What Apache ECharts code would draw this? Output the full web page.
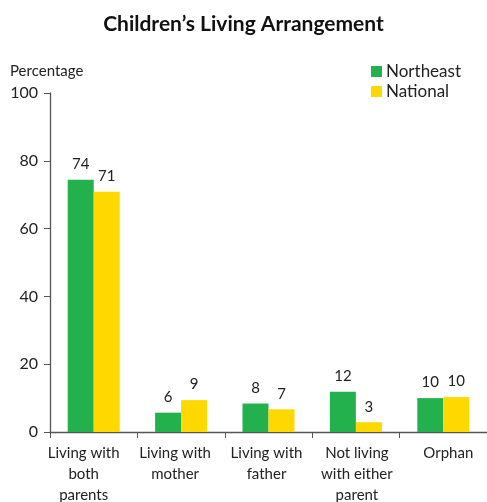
<html>
<head>
    <meta charset="utf-8">
    <title>Children's Living Arrangement</title>
    <script src="https://cdn.jsdelivr.net/npm/echarts@6/dist/echarts.min.js"></script>
    <style>
        html, body { margin: 0; padding: 0; width: 487px; height: 502px; background: #fff; }
    </style>
</head>
<body>
    <div id="main" style="width: 487px; height: 502px;"></div>
    <script type="text/javascript">
        // data
        var categories = ['Living with\nboth\nparents', 'Living with\nmother', 'Living with\nfather', 'Not living\nwith either\nparent', 'Orphan'];
        var northeast = [74.4, 5.7, 8.4, 11.9, 10.0];
        var national = [70.9, 9.4, 6.7, 2.9, 10.3];
        var yTicks = [0, 20, 40, 60, 80, 100];

        var colors = ['#22b14c', '#ffd800'];
        var font = 'Lato, "Open Sans", sans-serif';
        // the original's category labels sit a little off their tick centres
        var labelShift = [-10, -6, -2, 1, 5];
        var myChart = echarts.init(document.getElementById('main'));

        var catData = categories.map(function (c, i) {
            var s = labelShift[i];
            return {
                value: c,
                textStyle: { padding: s < 0 ? [0, -2 * s, 0, 0] : [0, 0, 0, 2 * s] }
            };
        });

        var option = {
            color: colors,
            animation: false,
            textStyle: { fontFamily: font },
            title: {
                text: 'Children\u2019s Living Arrangement',
                left: 'center',
                top: 9,
                textStyle: { fontFamily: font, fontSize: 21, fontWeight: 'bold', color: '#111' }
            },
            legend: {
                right: 21,
                top: 58,
                orient: 'vertical',
                itemWidth: 11,
                itemHeight: 11,
                itemGap: 3,
                icon: 'rect',
                textStyle: { fontFamily: font, fontSize: 17, color: '#222', padding: [0, 0, 0, -1] },
                data: ['Northeast', 'National']
            },
            grid: {
                left: 50,
                right: 0,
                top: 93,
                bottom: 70,
                containLabel: false,
                outerBoundsMode: 'none'
            },
            xAxis: {
                type: 'category',
                data: catData,
                axisLine: { lineStyle: { color: '#555', width: 1.3 } },
                axisTick: { show: true, length: 6, lineStyle: { color: '#555' } },
                axisLabel: {
                    interval: 0,
                    margin: 11,
                    fontFamily: font,
                    fontSize: 15,
                    lineHeight: 21,
                    color: '#222'
                }
            },
            yAxis: {
                type: 'value',
                name: 'Percentage',
                nameLocation: 'end',
                nameGap: 14,
                nameTextStyle: { fontFamily: font, fontSize: 15, color: '#222', align: 'left', padding: [0, 0, 0, -40] },
                min: yTicks[0],
                max: yTicks[yTicks.length - 1],
                interval: 20,
                splitLine: { show: false },
                axisLine: { show: true, lineStyle: { color: '#555', width: 1.3 } },
                axisTick: { show: true, length: 6, lineStyle: { color: '#555' } },
                axisLabel: { fontFamily: font, fontSize: 16, color: '#222', margin: 12 }
            },
            series: [
                {
                    name: 'Northeast',
                    type: 'bar',
                    barWidth: 26,
                    barGap: '0%',
                    data: northeast,
                    label: {
                        show: true,
                        position: 'top',
                        distance: 8,
                        fontFamily: font,
                        fontSize: 15,
                        color: '#222',
                        formatter: function (p) { return Math.round(p.value); }
                    }
                },
                {
                    name: 'National',
                    type: 'bar',
                    barWidth: 26,
                    data: national,
                    label: {
                        show: true,
                        position: 'top',
                        distance: 8,
                        fontFamily: font,
                        fontSize: 15,
                        color: '#222',
                        formatter: function (p) { return Math.round(p.value); }
                    }
                }
            ]
        };
        myChart.setOption(option);
    </script>
</body>
</html>
